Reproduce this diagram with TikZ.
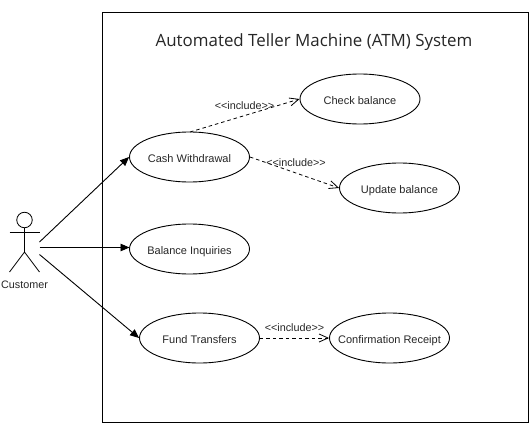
\documentclass[tikz,border=0pt]{standalone}
\usepackage{fontspec}
\setmainfont{Liberation Sans}
\newfontfamily\titlefont{Open Sans}
\usetikzlibrary{shapes.geometric,arrows.meta}
\tikzset{
  usecase/.style={draw=black,line width=0.9pt,ellipse,minimum width=120pt,minimum height=50pt,inner xsep=-30pt,inner ysep=0pt,font=\fontsize{11pt}{13pt}\selectfont,text=black!85,text depth=0pt,text height=10.5pt},
  assoc/.style={draw=black,line width=0.9pt,-{Triangle[length=9pt,width=7.5pt]}},
  incl/.style={draw=black,line width=0.8pt,dash pattern=on 3.5pt off 3pt,-{Straight Barb[length=9pt,width=8pt,line width=0.8pt]}},
  lbl/.style={font=\fontsize{10.8pt}{13pt}\selectfont,text=black!85,inner sep=0pt},
  actorline/.style={draw=black,line width=0.8pt}
}
\begin{document}
\begin{tikzpicture}[x=1pt,y=-1pt]
\useasboundingbox (0,0) rectangle (530,423);
\node[draw=black,line width=0.9pt,minimum width=426pt,minimum height=410pt,inner sep=0pt] (system) at (315,217) {};
\node[font=\titlefont\fontsize{16.9pt}{20pt}\selectfont,text=black!85,inner sep=0pt] (title) at (314,42.5) {Automated Teller Machine (ATM) System};
\node[usecase] (cash) at (189.5,157) {Cash Withdrawal};
\node[usecase] (check) at (360,99) {Check balance};
\node[usecase] (update) at (399.5,188) {Update balance};
\node[usecase] (inquiry) at (189.5,249) {Balance Inquiries};
\node[usecase] (fund) at (199.5,338) {Fund Transfers};
\node[usecase] (receipt) at (389.5,338) {Confirmation Receipt};
% actor
\node[draw=black,line width=0.8pt,circle,minimum size=15.5pt,inner sep=0pt] (head) at (24.5,220) {};
\coordinate (hip) at (24.5,252);
\coordinate (armL) at (9.5,232);
\coordinate (armR) at (39.5,232);
\coordinate (legL) at (9.5,272);
\coordinate (legR) at (39.5,272);
\draw[actorline] (head) -- (hip);
\draw[actorline] (armL) -- (armR);
\draw[actorline] (legL) -- (hip) -- (legR);
\node[lbl] (customer) at (24.5,285) {Customer};
\coordinate (a1) at (39.5,242);
\coordinate (a2) at (39.5,247.5);
\coordinate (a3) at (39.5,254.5);
\coordinate (inqw) at (129.5,247.5);
\draw[assoc] (a1) -- (cash.west);
\draw[assoc] (a2) -- (inqw);
\draw[assoc] (a3) -- (fund.west);
% includes
\coordinate (c1) at (190,132);
\draw[incl] (c1) -- (check.west);
\draw[incl] (cash.east) -- (update.west);
\draw[incl] (fund.east) -- (receipt.west);
\node[lbl] (i1) at (244.5,106) {<{}<include>{}>};
\node[lbl] (i2) at (296,163) {<{}<include>{}>};
\node[lbl] (i3) at (294.5,328) {<{}<include>{}>};
\end{tikzpicture}
\end{document}
